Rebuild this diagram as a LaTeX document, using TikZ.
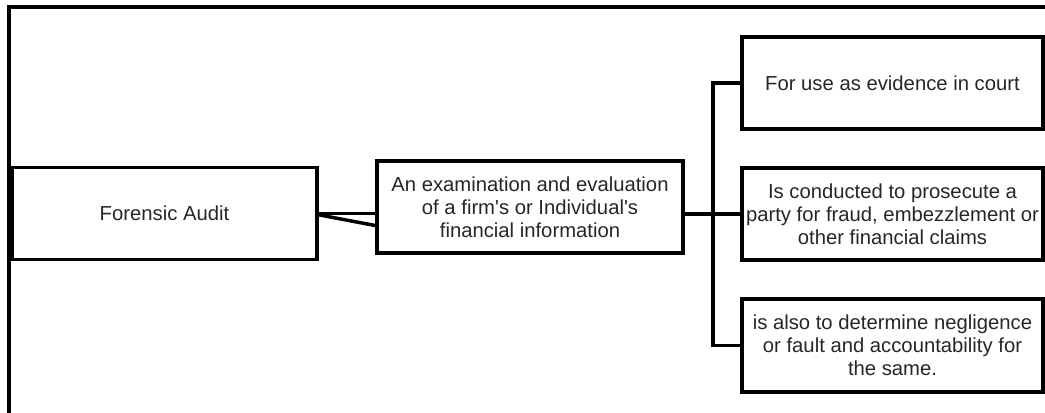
\documentclass[tikz,border=0pt]{standalone}
\usepackage{fontspec}
\setmainfont{Liberation Sans}
\usepackage{tikz}
\usetikzlibrary{positioning}
\tikzset
{
    box/.style = {rectangle, draw=black, line width=2.8pt, align=center, inner sep=0pt, text=black!85, font=\fontsize{15.2}{17.25}\selectfont},
    link/.style = {draw=black, line width=2.6pt},
    frame/.style = {draw=black, line width=2.6pt}
}

\begin{document}
\begin{tikzpicture}
	[x=0.75pt, y=-0.75pt]
	\useasboundingbox (0,0) rectangle (1045,412);
	\draw[frame] (9,413) |- (1046,7);
	% main boxes
	\node[box, minimum width=228.75pt, minimum height=69pt] (audit) at (164.5,213.5) {Forensic Audit};
	\node[box, minimum width=229.5pt, minimum height=69pt] (exam) at (530,207)
		{An examination and evaluation\\of a firm\textquotesingle s or Individual\textquotesingle s\\financial information};
	% purposes
	\node[box, minimum width=225.75pt, minimum height=69pt] (court) at (892.5,83) {For use as evidence in court};
	\node[box, minimum width=225.75pt, minimum height=69pt] (fraud) at (892.5,214)
		{Is conducted to prosecute a\\party for fraud, embezzlement or\\other financial claims};
	\node[box, minimum width=225.75pt, minimum height=69.75pt] (fault) at (892.5,345.5)
		{is also to determine negligence\\or fault and accountability for\\the same.};
	\coordinate (spine) at (713,214);
	% connectors
	\draw[link] (audit.east) -- (audit.east -| exam.west);
	\draw[link] ([yshift=-1pt]audit.east) -- ([yshift=-9pt]audit.east -| exam.west);
	\draw[link] (exam.east |- fraud.west) -- (fraud.west);
	\draw[link] (court.west) -- (court.west -| spine) -- (fault.west -| spine) -- (fault.west);
\end{tikzpicture}
\end{document}
